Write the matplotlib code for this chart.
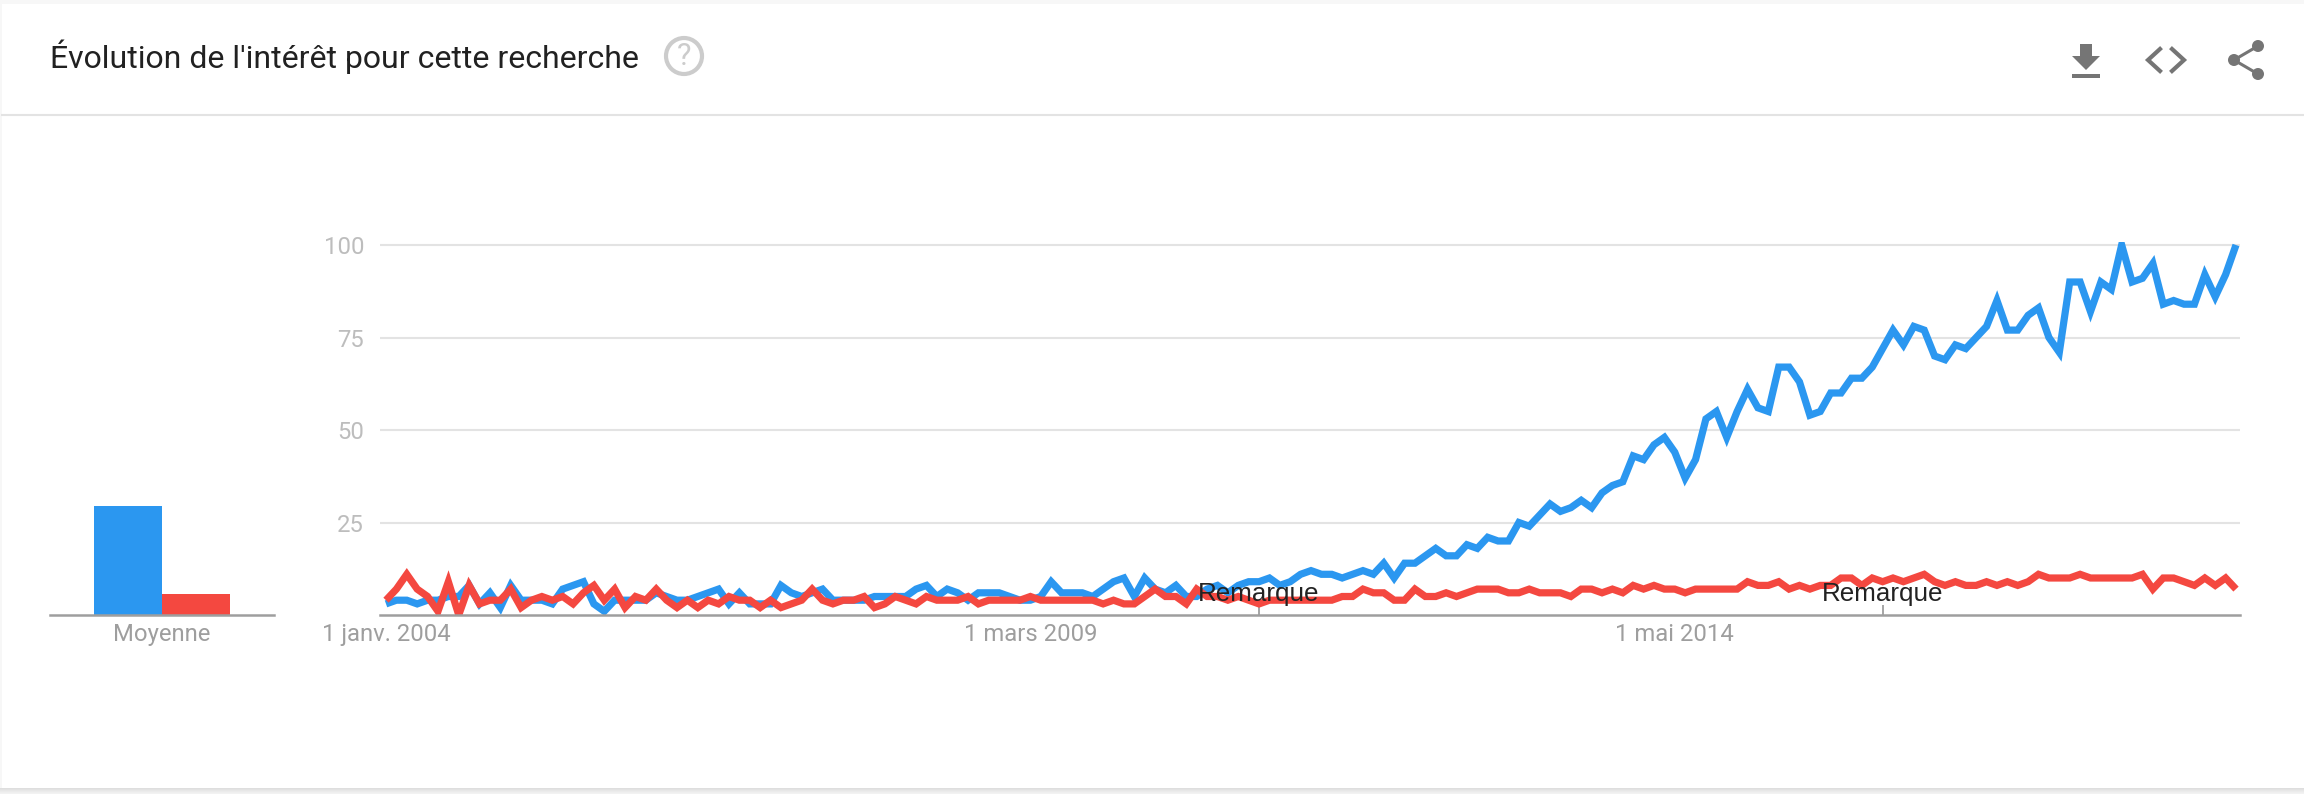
import matplotlib
matplotlib.use("Agg")
import matplotlib.pyplot as plt
from matplotlib.patches import Circle, Polygon, Rectangle

W, H = 2304, 794

title = "Évolution de l'intérêt pour cette recherche"
bar_label = "Moyenne"
note_label = "Remarque"

# monthly values, jan 2004 -> nov 2018
blue = [3, 4, 4, 3, 4, 4, 5, 5, 8, 3, 6, 2, 8, 4, 4, 4, 3, 7, 8, 9,
        3, 1, 4, 4, 4, 4, 6, 5, 4, 4, 5, 6, 7, 3, 6, 3, 3, 3, 8, 6,
        5, 6, 7, 4, 4, 4, 4, 5, 5, 5, 5, 7, 8, 5, 7, 6, 4, 6, 6, 6,
        5, 4, 4, 5, 9, 6, 6, 6, 5, 7, 9, 10, 5, 10, 7, 6, 8, 5, 5, 7,
        8, 6, 8, 9, 9, 10, 8, 9, 11, 12, 11, 11, 10, 11, 12, 11, 14, 10, 14, 14,
        16, 18, 16, 16, 19, 18, 21, 20, 20, 25, 24, 27, 30, 28, 29, 31, 29, 33, 35, 36,
        43, 42, 46, 48, 44, 37, 42, 53, 55, 48, 55, 61, 56, 55, 67, 67, 63, 54, 55, 60,
        60, 64, 64, 67, 72, 77, 73, 78, 77, 70, 69, 73, 72, 75, 78, 85, 77, 77, 81, 83,
        75, 71, 90, 90, 82, 90, 88, 100, 90, 91, 95, 84, 85, 84, 84, 92, 86, 92, 100]
red = [4, 7, 11, 7, 5, 1, 9, 0, 8, 3, 4, 4, 7, 2, 4, 5, 4, 5, 3, 6,
       8, 4, 7, 2, 5, 4, 7, 4, 2, 4, 2, 4, 3, 5, 4, 4, 2, 4, 2, 3,
       4, 7, 4, 3, 4, 4, 5, 2, 3, 5, 4, 3, 5, 4, 4, 4, 5, 3, 4, 4,
       4, 4, 5, 4, 4, 4, 4, 4, 4, 3, 4, 3, 3, 5, 7, 5, 5, 3, 7, 5,
       5, 4, 5, 4, 3, 4, 4, 4, 4, 4, 4, 4, 5, 5, 7, 6, 6, 4, 4, 7,
       5, 5, 6, 5, 6, 7, 7, 7, 6, 6, 7, 6, 6, 6, 5, 7, 7, 6, 7, 6,
       8, 7, 8, 7, 7, 6, 7, 7, 7, 7, 7, 9, 8, 8, 9, 7, 8, 7, 8, 8,
       10, 10, 8, 10, 9, 10, 9, 10, 11, 9, 8, 9, 8, 8, 9, 8, 9, 8, 9, 11,
       10, 10, 10, 11, 10, 10, 10, 10, 10, 11, 7, 10, 10, 9, 8, 10, 8, 10, 7]
means = [29.5, 5.7]

y_ticks = [25, 50, 75, 100]
x_tick_pos = [0, 62, 124]
x_tick_labels = ["1 janv. 2004", "1 mars 2009", "1 mai 2014"]
note_pos = [84, 144]

BLUE = "#2b97f0"
RED = "#f44840"
GRID = "#e3e3e3"
AXIS = "#9e9e9e"
ICON = "#757575"


def pix_axes(left, top, right, bottom, **kw):
    return fig.add_axes([left / W, 1 - bottom / H, (right - left) / W, (bottom - top) / H], **kw)


fig = plt.figure(figsize=(W / 100, H / 100), dpi=100, facecolor="#f7f7f7")
plt.rcParams["font.family"] = ["Roboto", "DejaVu Sans"]

# card + header drawn in pixel coords
bg = pix_axes(0, 0, W, H, zorder=0)
bg.set_xlim(0, W)
bg.set_ylim(H, 0)
bg.axis("off")
bg.add_patch(Rectangle((2, 4), 2302, 784, fc="white", ec="none"))
# shadow under the card
for k, c in enumerate(["#dedede", "#e2e2e2", "#e7e7e7", "#ebebeb", "#efefef", "#f2f2f2"]):
    bg.add_patch(Rectangle((0, 788 + k), W, 1, fc=c, ec="none"))
bg.plot([2, W], [115, 115], color=GRID, lw=1.5)
bg.text(50, 57, title, fontsize=23, color="#212121", va="center", ha="left")
bg.add_patch(Circle((684, 56), 18, fc="none", ec="#cccccc", lw=3))
bg.text(684, 56.5, "?", fontsize=22, color="#cccccc", ha="center", va="center")

# download icon
bg.add_patch(Polygon([(2080, 44), (2092, 44), (2092, 56), (2100, 56), (2086, 70), (2072, 56), (2080, 56)], fc=ICON, ec="none"))
bg.add_patch(Rectangle((2072, 74), 28, 4, fc=ICON, ec="none"))
# code icon
bg.plot([2160, 2148, 2160], [49, 60, 71], color=ICON, lw=3, solid_joinstyle="miter")
bg.plot([2172, 2184, 2172], [49, 60, 71], color=ICON, lw=3, solid_joinstyle="miter")
# share icon
bg.plot([2258, 2234, 2258], [46, 60, 74], color=ICON, lw=2.2)
for cx, cy in [(2258, 46), (2234, 60), (2258, 74)]:
    bg.add_patch(Circle((cx, cy), 6, fc=ICON, ec="none"))

# main line chart
top_val = 100.8
axis_y = 615
plot_top = axis_y - top_val * 3.7
ax = pix_axes(380, plot_top, 2240, axis_y, zorder=2)
ax.patch.set_alpha(0)
px = (2236 - 386) / 178
ax.set_xlim(-6 / px, 178 + 4 / px)
ax.set_ylim(0, top_val)
months = list(range(len(blue)))
ax.plot(months, blue, color=BLUE, lw=5.2, solid_joinstyle="miter", solid_capstyle="butt", zorder=3)
ax.plot(months, red, color=RED, lw=5.2, solid_joinstyle="miter", solid_capstyle="butt", zorder=4)

ax.set_yticks(y_ticks)
ax.set_yticklabels([str(v) for v in y_ticks], fontsize=17.2, color="#bdbdbd")
ax.tick_params(axis="y", length=0, pad=11.5)
ax.grid(axis="y", color=GRID, lw=1.5)
ax.set_axisbelow(True)
ax.set_xticks(x_tick_pos)
ax.set_xticklabels(x_tick_labels, fontsize=17.2, color=AXIS)
ax.tick_params(axis="x", length=0, pad=6)
ax.set_xticks(note_pos, minor=True)
ax.tick_params(axis="x", which="minor", direction="in", length=7, width=1.3, color=AXIS)
for s in ["top", "left", "right"]:
    ax.spines[s].set_visible(False)
ax.spines["bottom"].set_color(AXIS)
ax.spines["bottom"].set_linewidth(1.8)
ax.spines["bottom"].set_zorder(5)
for p in note_pos:
    ax.text(p, 5.6, note_label, family="Liberation Sans", fontsize=18.7, color="#222222",
            ha="center", va="center", zorder=6)

# average bars
ax2 = pix_axes(50, plot_top, 274, axis_y, zorder=2)
ax2.patch.set_alpha(0)
ax2.bar([-0.5, 0.5], means, width=1, color=[BLUE, RED])
ax2.set_xlim(-112 / 68, 112 / 68)
ax2.set_ylim(0, top_val)
ax2.set_yticks([])
ax2.set_xticks([0])
ax2.set_xticklabels([bar_label], fontsize=17.2, color=AXIS)
ax2.tick_params(axis="x", length=0, pad=6)
for s in ["top", "left", "right"]:
    ax2.spines[s].set_visible(False)
ax2.spines["bottom"].set_color(AXIS)
ax2.spines["bottom"].set_linewidth(1.8)

fig.savefig("out.png", dpi=100, facecolor=fig.get_facecolor())
